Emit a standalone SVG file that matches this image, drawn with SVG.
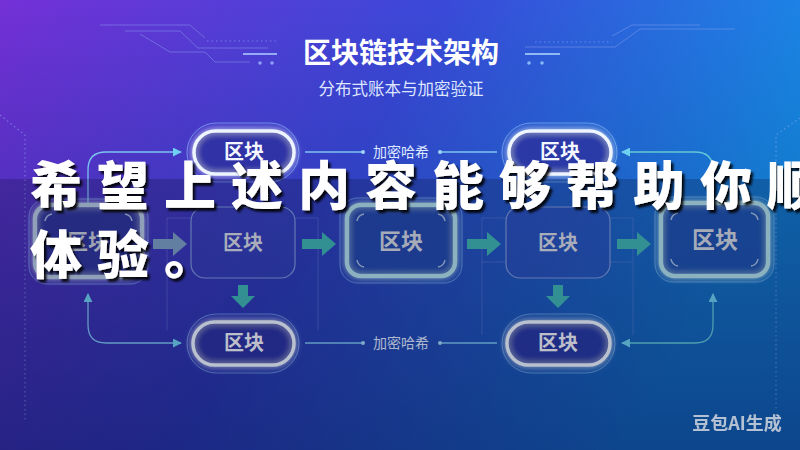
<svg xmlns="http://www.w3.org/2000/svg" width="800" height="450" viewBox="0 0 800 450">
<defs>
  <linearGradient id="bg" x1="0" y1="0" x2="1" y2="0.35">
    <stop offset="0" stop-color="#7430d6"/>
    <stop offset="0.5" stop-color="#3a4ad8"/>
    <stop offset="1" stop-color="#1592e8"/>
  </linearGradient>
  <linearGradient id="bgShade" x1="0" y1="0" x2="0" y2="1">
    <stop offset="0" stop-color="#0a1060" stop-opacity="0"/>
    <stop offset="1" stop-color="#0a1060" stop-opacity="0.45"/>
  </linearGradient>
  <filter id="glow" x="-30%" y="-30%" width="160%" height="160%">
    <feGaussianBlur in="SourceGraphic" stdDeviation="3" result="b"/>
    <feMerge><feMergeNode in="b"/><feMergeNode in="SourceGraphic"/></feMerge>
  </filter>
  <filter id="shadow" x="-10%" y="-30%" width="120%" height="160%">
    <feDropShadow dx="2.5" dy="3" stdDeviation="1.2" flood-color="#000" flood-opacity="0.9"/>
  </filter>
  <marker id="tri" viewBox="0 0 10 10" refX="9" refY="5" markerWidth="9" markerHeight="9" markerUnits="userSpaceOnUse" orient="auto">
    <path d="M0,0 L10,5 L0,10 Z" fill="#6fd0f0"/>
  </marker>
  <marker id="dot" viewBox="0 0 4 4" refX="2" refY="2" markerWidth="4" markerHeight="4" markerUnits="userSpaceOnUse">
    <circle cx="2" cy="2" r="2" fill="#9fd4f5"/>
  </marker>
</defs>
<style>
  .deco{fill:none;stroke:#8ea6f0;stroke-width:1;opacity:.45}
  .decoDot{fill:none;stroke:#9ab4f5;stroke-width:1.2;stroke-dasharray:1.5 3;opacity:.5}
  .frame{fill:none;stroke:#7d8fe0;stroke-width:1;opacity:.35}
  .pill{fill:#2b2f9c;fill-opacity:.55;stroke:#eef5ff;stroke-width:3.5}
  .ring{fill:none;stroke:#8fc6ff;stroke-width:1;opacity:.55}
  .thick{fill:#2a3594;fill-opacity:.5;stroke:#b9cbe4;stroke-width:4.5}
  .thickTeal{fill:#1d4aa8;fill-opacity:.5;stroke:#b3e0ec;stroke-width:4.5}
  .thin{fill:#3948b8;fill-opacity:.35;stroke:#7f98dc;stroke-width:1.2}
  .corner{fill:none;stroke:#c9dcef;stroke-width:1.5;opacity:.8}
  .lbl{font-family:"Noto Sans CJK SC","Noto Sans",sans-serif;font-weight:700;text-anchor:middle}
  .edge{fill:none;stroke:#7ec4f2;stroke-width:1.3}
  .edgeT{fill:none;stroke:#63c9d8;stroke-width:1.3}
  .small{font-family:"Noto Sans CJK SC","Noto Sans",sans-serif;font-size:14px;fill:#dfe8ff;text-anchor:middle}
  .blk{fill:#3fb6b4}
</style>

<!-- background -->
<rect width="800" height="450" fill="url(#bg)"/>
<rect width="800" height="450" fill="url(#bgShade)"/>

<!-- decoration -->
<g id="decoration">
  <path class="deco" d="M100,25 H190 L205,38"/>
  <path class="decoDot" d="M207,41 H277"/>
  <path class="deco" d="M125,31 H180 L198,48 H268"/>
  <path class="deco" d="M140,34 L170,52 H205 L215,62 H250"/>
  <path d="M243,54 H277" stroke="#a9c6ff" stroke-width="2" opacity=".8"/>
  <circle cx="260" cy="63" r="1.8" fill="#9fb8ff" opacity=".8"/>
  <circle cx="272" cy="63" r="1.8" fill="#9fb8ff" opacity=".8"/>
  <path d="M525,54 H560" stroke="#a9d2ff" stroke-width="2" opacity=".8"/>
  <path class="deco" d="M525,47 H615 L640,29 H735"/>
  <path class="decoDot" d="M535,42 H612"/>
  <path class="deco" d="M612,36 L632,25 H700"/>
  <circle cx="529" cy="63" r="1.8" fill="#9fd0ff" opacity=".8"/>
  <circle cx="542" cy="63" r="1.8" fill="#9fd0ff" opacity=".8"/>
  <path class="decoDot" d="M0,115 L25,135 V420"/>
  <path class="decoDot" d="M800,118 L776,135 V410"/>
  <path class="frame" d="M167,218 H191 M167,218 V330 M295,218 H318 V330"/>
  <path class="frame" d="M482,218 H506 M482,218 V335 M610,218 H633 V335 M482,262 H506 M610,262 H633"/>
</g>

<!-- title -->
<text class="lbl" x="401" y="63" font-size="28" fill="#ffffff">区块链技术架构</text>
<text class="lbl" x="401" y="95" font-size="16.5" fill="#dfe6ff" style="font-weight:400">分布式账本与加密验证</text>

<!-- connectors -->
<g id="connectors">
  <path class="edge" d="M88,205 V170 Q88,152 106,152 H181" marker-end="url(#tri)"/>
  <path class="edgeT" d="M713,205 V170 Q713,152 695,152 H622" marker-end="url(#tri)"/>
  <path class="edge" d="M305,152 H363" marker-end="url(#dot)"/>
  <path class="edge" d="M497,152 H440" marker-end="url(#dot)"/>
  <path class="edge" d="M88,325 Q88,343 106,343 H181" marker-end="url(#tri)"/>
  <path class="edge" d="M88,325 V294" marker-end="url(#tri)"/>
  <path class="edgeT" d="M713,325 Q713,343 695,343 H622" marker-end="url(#tri)"/>
  <path class="edgeT" d="M713,325 V294" marker-end="url(#tri)"/>
  <path class="edge" d="M305,343 H363" marker-end="url(#dot)"/>
  <path class="edge" d="M497,343 H440" marker-end="url(#dot)"/>
  <path d="M153,239 H173 V232 L187,244 L173,256 V249 H153 Z" fill="#7d9fc6"/>
  <path class="blk" d="M302,239 H322 V232 L336,244 L322,256 V249 H302 Z"/>
  <path class="blk" d="M467,239 H487 V232 L501,244 L487,256 V249 H467 Z"/>
  <path class="blk" d="M617,239 H637 V232 L651,244 L637,256 V249 H617 Z"/>
  <path class="blk" d="M238,285 H248 V296 H255 L243,308 L231,296 H238 Z"/>
  <path class="blk" d="M553,285 H563 V296 H570 L558,308 L546,296 H553 Z"/>
  <text class="small" x="401" y="157">加密哈希</text>
  <text class="small" x="401" y="348">加密哈希</text>
</g>

<!-- top pills -->
<g id="pill-top-left">
  <rect class="ring" x="187" y="123" width="112" height="59" rx="29.5"/>
  <rect class="pill" x="194" y="131" width="100" height="43" rx="21.5" filter="url(#glow)"/>
  <text class="lbl" x="244" y="159" font-size="20" fill="#f4f7ff">区块</text>
</g>
<g id="pill-top-right">
  <rect class="ring" x="502" y="123" width="115" height="59" rx="29.5"/>
  <rect class="pill" x="509" y="131" width="102" height="43" rx="21.5" filter="url(#glow)"/>
  <text class="lbl" x="560" y="159" font-size="20" fill="#f4f7ff">区块</text>
</g>

<!-- middle row -->
<g id="node-1">
  <rect class="ring" x="29" y="199" width="119" height="85" rx="18"/>
  <rect class="thick" x="35" y="205" width="107" height="72" rx="14" filter="url(#glow)"/>
  <path class="corner" d="M45,221 Q46,215 52,214 M132,221 Q131,215 125,214 M45,261 Q46,267 52,268 M132,261 Q131,267 125,268"/>
  <text class="lbl" x="88" y="249" font-size="21" fill="#c9cfdb">区块</text>
</g>
<g id="node-2">
  <rect class="thin" x="191" y="207" width="104" height="71" rx="14"/>
  <text class="lbl" x="243" y="250" font-size="20" fill="#d6dbe4">区块</text>
</g>
<g id="node-3">
  <rect class="ring" x="340" y="198" width="122" height="85" rx="18"/>
  <rect class="thickTeal" x="347" y="205" width="108" height="71" rx="14" filter="url(#glow)"/>
  <path class="corner" d="M357,221 Q358,215 364,214 M445,221 Q444,215 438,214 M357,260 Q358,266 364,267 M445,260 Q444,266 438,267"/>
  <text class="lbl" x="401" y="249" font-size="22" fill="#d4d9e3">区块</text>
</g>
<g id="node-4">
  <rect class="thin" x="506" y="207" width="104" height="71" rx="14"/>
  <text class="lbl" x="558" y="250" font-size="20" fill="#d6dbe4">区块</text>
</g>
<g id="node-5">
  <rect class="ring" x="655" y="197" width="119" height="85" rx="18"/>
  <rect class="thickTeal" x="661" y="203" width="107" height="73" rx="14" filter="url(#glow)"/>
  <path class="corner" d="M671,220 Q672,214 678,213 M758,220 Q757,214 751,213 M671,259 Q672,265 678,266 M758,259 Q757,265 751,266"/>
  <text class="lbl" x="715" y="248" font-size="23" fill="#d4d9e3">区块</text>
</g>

<!-- bottom pills -->
<g id="pill-bottom-left">
  <rect class="ring" x="187" y="314" width="112" height="59" rx="29.5"/>
  <rect class="pill" x="193" y="322" width="101" height="43" rx="21.5" filter="url(#glow)"/>
  <text class="lbl" x="244" y="350" font-size="20" fill="#f0f3fa">区块</text>
</g>
<g id="pill-bottom-right">
  <rect class="ring" x="502" y="314" width="113" height="59" rx="29.5"/>
  <rect class="pill" x="507" y="322" width="103" height="43" rx="21.5" filter="url(#glow)"/>
  <text class="lbl" x="558" y="350" font-size="20" fill="#f0f3fa">区块</text>
</g>

<!-- dark band overlay -->
<rect x="0" y="179" width="800" height="271" fill="#050820" opacity="0.22"/>

<!-- watermark -->
<text x="737" y="430" font-family="'Noto Sans CJK SC','Noto Sans',sans-serif" font-weight="700" font-size="18" fill="#c7cedb" text-anchor="middle" opacity="0.9">豆包AI生成</text>

<!-- overlay caption -->
<g filter="url(#shadow)" font-family="'Noto Sans CJK SC','Noto Sans',sans-serif" font-weight="900" font-size="52" fill="#ffffff" letter-spacing="15">
  <text x="30" y="205">希望上述内容能够帮助你顺利</text>
  <text x="30" y="274">体验。</text>
</g>
</svg>
